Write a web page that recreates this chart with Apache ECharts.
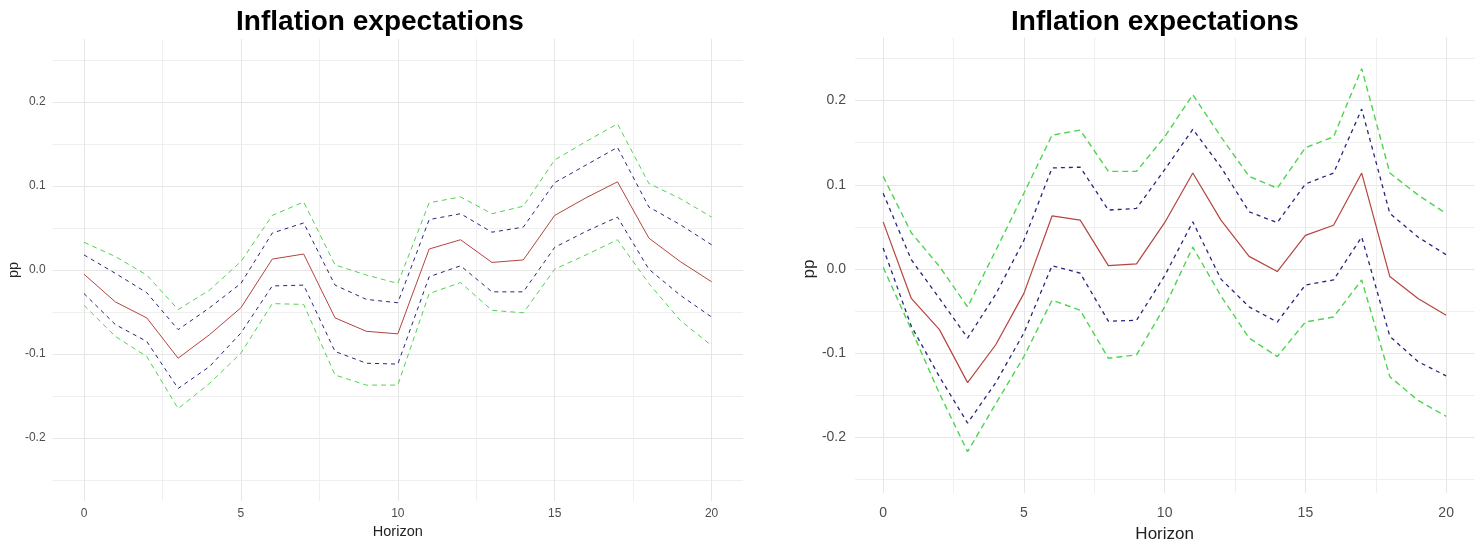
<!DOCTYPE html>
<html>
<head>
    <meta charset="utf-8">
    <title>Inflation expectations</title>
    <script src="https://cdn.jsdelivr.net/npm/echarts@6/dist/echarts.min.js"></script>
    <style>
        html, body { margin: 0; padding: 0; background: #fff; }
        #chart { width: 1478px; height: 548px; }
    </style>
</head>
<body>
    <div id="chart"></div>
    <script type="text/javascript">
        // horizon (x) and the two panels' responses
        var horizon = [0, 1, 2, 3, 4, 5, 6, 7, 8, 9, 10, 11, 12, 13, 14, 15, 16, 17, 18, 19, 20];
        var xTicks = [0, 5, 10, 15, 20];
        var yTicks = [-0.2, -0.1, 0.0, 0.1, 0.2];

        // left panel
        var leftMedian = [-0.005, -0.038, -0.057, -0.105, -0.077, -0.045, 0.013, 0.019, -0.057, -0.073, -0.076, 0.025, 0.036, 0.009, 0.012, 0.065, 0.086, 0.105, 0.038, 0.010, -0.014];
        var leftBlueUp = [0.018, -0.004, -0.027, -0.071, -0.045, -0.016, 0.044, 0.056, -0.018, -0.035, -0.039, 0.060, 0.067, 0.045, 0.051, 0.104, 0.125, 0.146, 0.075, 0.054, 0.030];
        var leftBlueLo = [-0.028, -0.065, -0.085, -0.141, -0.115, -0.075, -0.019, -0.018, -0.097, -0.111, -0.112, -0.008, 0.005, -0.026, -0.026, 0.027, 0.046, 0.063, 0.001, -0.030, -0.056];
        var leftGreenUp = [0.033, 0.016, -0.006, -0.047, -0.024, 0.010, 0.065, 0.081, 0.006, -0.006, -0.016, 0.080, 0.087, 0.067, 0.076, 0.131, 0.153, 0.174, 0.103, 0.085, 0.063];
        var leftGreenLo = [-0.042, -0.079, -0.103, -0.165, -0.135, -0.099, -0.040, -0.041, -0.125, -0.137, -0.137, -0.028, -0.015, -0.048, -0.051, 0.001, 0.018, 0.036, -0.016, -0.060, -0.090];

        // right panel
        var rightMedian = [0.056, -0.035, -0.072, -0.135, -0.090, -0.029, 0.063, 0.058, 0.004, 0.006, 0.055, 0.114, 0.058, 0.015, -0.003, 0.040, 0.052, 0.114, -0.009, -0.035, -0.055];
        var rightBlueUp = [0.090, 0.011, -0.035, -0.082, -0.030, 0.034, 0.120, 0.121, 0.070, 0.072, 0.118, 0.166, 0.121, 0.068, 0.055, 0.101, 0.114, 0.190, 0.066, 0.038, 0.017];
        var rightBlueLo = [0.025, -0.068, -0.128, -0.183, -0.135, -0.076, 0.004, -0.005, -0.062, -0.061, -0.008, 0.056, -0.012, -0.045, -0.063, -0.019, -0.013, 0.038, -0.080, -0.110, -0.127];
        var rightGreenUp = [0.110, 0.043, 0.003, -0.045, 0.022, 0.090, 0.159, 0.165, 0.116, 0.116, 0.157, 0.207, 0.157, 0.110, 0.096, 0.144, 0.157, 0.238, 0.114, 0.088, 0.066];
        var rightGreenLo = [0.002, -0.072, -0.148, -0.217, -0.160, -0.104, -0.037, -0.049, -0.106, -0.102, -0.045, 0.026, -0.032, -0.082, -0.104, -0.063, -0.057, -0.013, -0.128, -0.156, -0.175];

        var titleText = 'Inflation expectations';
        var xName = 'Horizon';
        var yName = 'pp';

        // panel ranges (ggplot-style 5% expansion)
        var X_MIN = -1, X_MAX = 21;
        var Y_MIN = -0.275, Y_MAX = 0.275;

        var RED = '#b5443e', BLUE = '#26267a', GREEN = '#4fd44f';
        var GRID_MAJOR = '#e6e6e6', GRID_MINOR = '#efefef';

        var option = {
            animation: false,
            backgroundColor: '#ffffff',
            textStyle: { fontFamily: 'Liberation Sans' },
            grid: [], xAxis: [], yAxis: [], series: [], graphic: []
        };

        function pairs(arr) {
            return horizon.map(function (h, i) { return [h, arr[i]]; });
        }

        function addPanel(rect, bands, st) {
            var g = option.grid.length;
            var pxX = rect.w / (X_MAX - X_MIN);
            var pxY = rect.h / (Y_MAX - Y_MIN);
            var yTop = yTicks[yTicks.length - 1] + 0.05, yBot = yTicks[0] - 0.05;
            var xFirst = xTicks[0], xLast = xTicks[xTicks.length - 1];

            // data grid
            option.grid.push({ left: rect.x, top: rect.y, width: rect.w, height: rect.h });
            // horizontal grid lines, full panel width
            option.grid.push({ left: rect.x, width: rect.w, top: rect.y + (Y_MAX - yTop) * pxY, height: (yTop - yBot) * pxY });
            // vertical grid lines, full panel height
            option.grid.push({ left: rect.x + (xFirst - X_MIN) * pxX, width: (xLast - xFirst) * pxX, top: rect.y, height: rect.h });

            option.xAxis.push({ gridIndex: g, type: 'value', min: X_MIN, max: X_MAX, show: false });
            option.yAxis.push({ gridIndex: g, type: 'value', min: Y_MIN, max: Y_MAX, show: false });

            option.xAxis.push({ gridIndex: g + 1, type: 'value', min: X_MIN, max: X_MAX, show: false });
            option.yAxis.push({
                gridIndex: g + 1, type: 'value', min: yBot, max: yTop, interval: 0.05,
                axisLine: { show: false }, axisTick: { show: false },
                splitLine: { show: true, lineStyle: { color: [GRID_MINOR, GRID_MAJOR], width: 1 } },
                axisLabel: {
                    color: '#4d4d4d', fontSize: st.tickSize, margin: st.yLabelMargin,
                    formatter: function (v) {
                        var k = Math.round(v * 100);
                        return k % 10 === 0 ? (k / 100).toFixed(1) : '';
                    }
                },
                name: yName, nameLocation: 'middle', nameGap: st.yNameGap,
                nameTextStyle: { color: '#222', fontSize: st.nameSize }
            });

            option.xAxis.push({
                gridIndex: g + 2, type: 'value', min: xFirst, max: xLast, interval: 2.5,
                axisLine: { show: false }, axisTick: { show: false },
                splitLine: { show: true, lineStyle: { color: [GRID_MAJOR, GRID_MINOR], width: 1 } },
                axisLabel: {
                    color: '#4d4d4d', fontSize: st.tickSize, margin: st.xLabelMargin,
                    formatter: function (v) { return xTicks.indexOf(v) >= 0 ? String(v) : ''; }
                },
                name: xName, nameLocation: 'middle', nameGap: st.xNameGap,
                nameTextStyle: { color: '#222', fontSize: st.nameSize }
            });
            option.yAxis.push({ gridIndex: g + 2, type: 'value', min: Y_MIN, max: Y_MAX, show: false });

            bands.forEach(function (b) {
                option.series.push({
                    type: 'line', xAxisIndex: g, yAxisIndex: g,
                    data: pairs(b.values), showSymbol: false, silent: true,
                    lineStyle: { color: b.color, width: b.width, type: b.dash || 'solid' },
                    z: b.z
                });
            });

            option.graphic.push({
                type: 'text', x: st.titleX, y: st.titleY,
                style: {
                    text: titleText, fill: '#000', font: 'bold 28px "Liberation Sans"',
                    align: 'center', verticalAlign: 'middle'
                }
            });
        }

        addPanel({ x: 52.6, y: 39, w: 690.4, h: 462 }, [
            { values: leftGreenUp, color: GREEN, width: 1, dash: [5, 4], z: 3 },
            { values: leftGreenLo, color: GREEN, width: 1, dash: [5, 4], z: 3 },
            { values: leftBlueUp, color: BLUE, width: 1, dash: [4, 4], z: 4 },
            { values: leftBlueLo, color: BLUE, width: 1, dash: [4, 4], z: 4 },
            { values: leftMedian, color: RED, width: 1, z: 5 }
        ], { tickSize: 12, nameSize: 14.5, yLabelMargin: 7, xLabelMargin: 7, yNameGap: 31, xNameGap: 20, titleX: 380, titleY: 22 });

        addPanel({ x: 855, y: 37.5, w: 619.3, h: 463 }, [
            { values: rightGreenUp, color: GREEN, width: 1.4, dash: [6, 4], z: 3 },
            { values: rightGreenLo, color: GREEN, width: 1.4, dash: [6, 4], z: 3 },
            { values: rightBlueUp, color: BLUE, width: 1.3, dash: [4, 4], z: 4 },
            { values: rightBlueLo, color: BLUE, width: 1.3, dash: [4, 4], z: 4 },
            { values: rightMedian, color: RED, width: 1.2, z: 5 }
        ], { tickSize: 14, nameSize: 17, yLabelMargin: 9, xLabelMargin: 13, yNameGap: 36, xNameGap: 33, titleX: 1155, titleY: 22 });

        var myChart = echarts.init(document.getElementById('chart'), null, { renderer: 'canvas' });
        myChart.setOption(option);
    </script>
</body>
</html>
